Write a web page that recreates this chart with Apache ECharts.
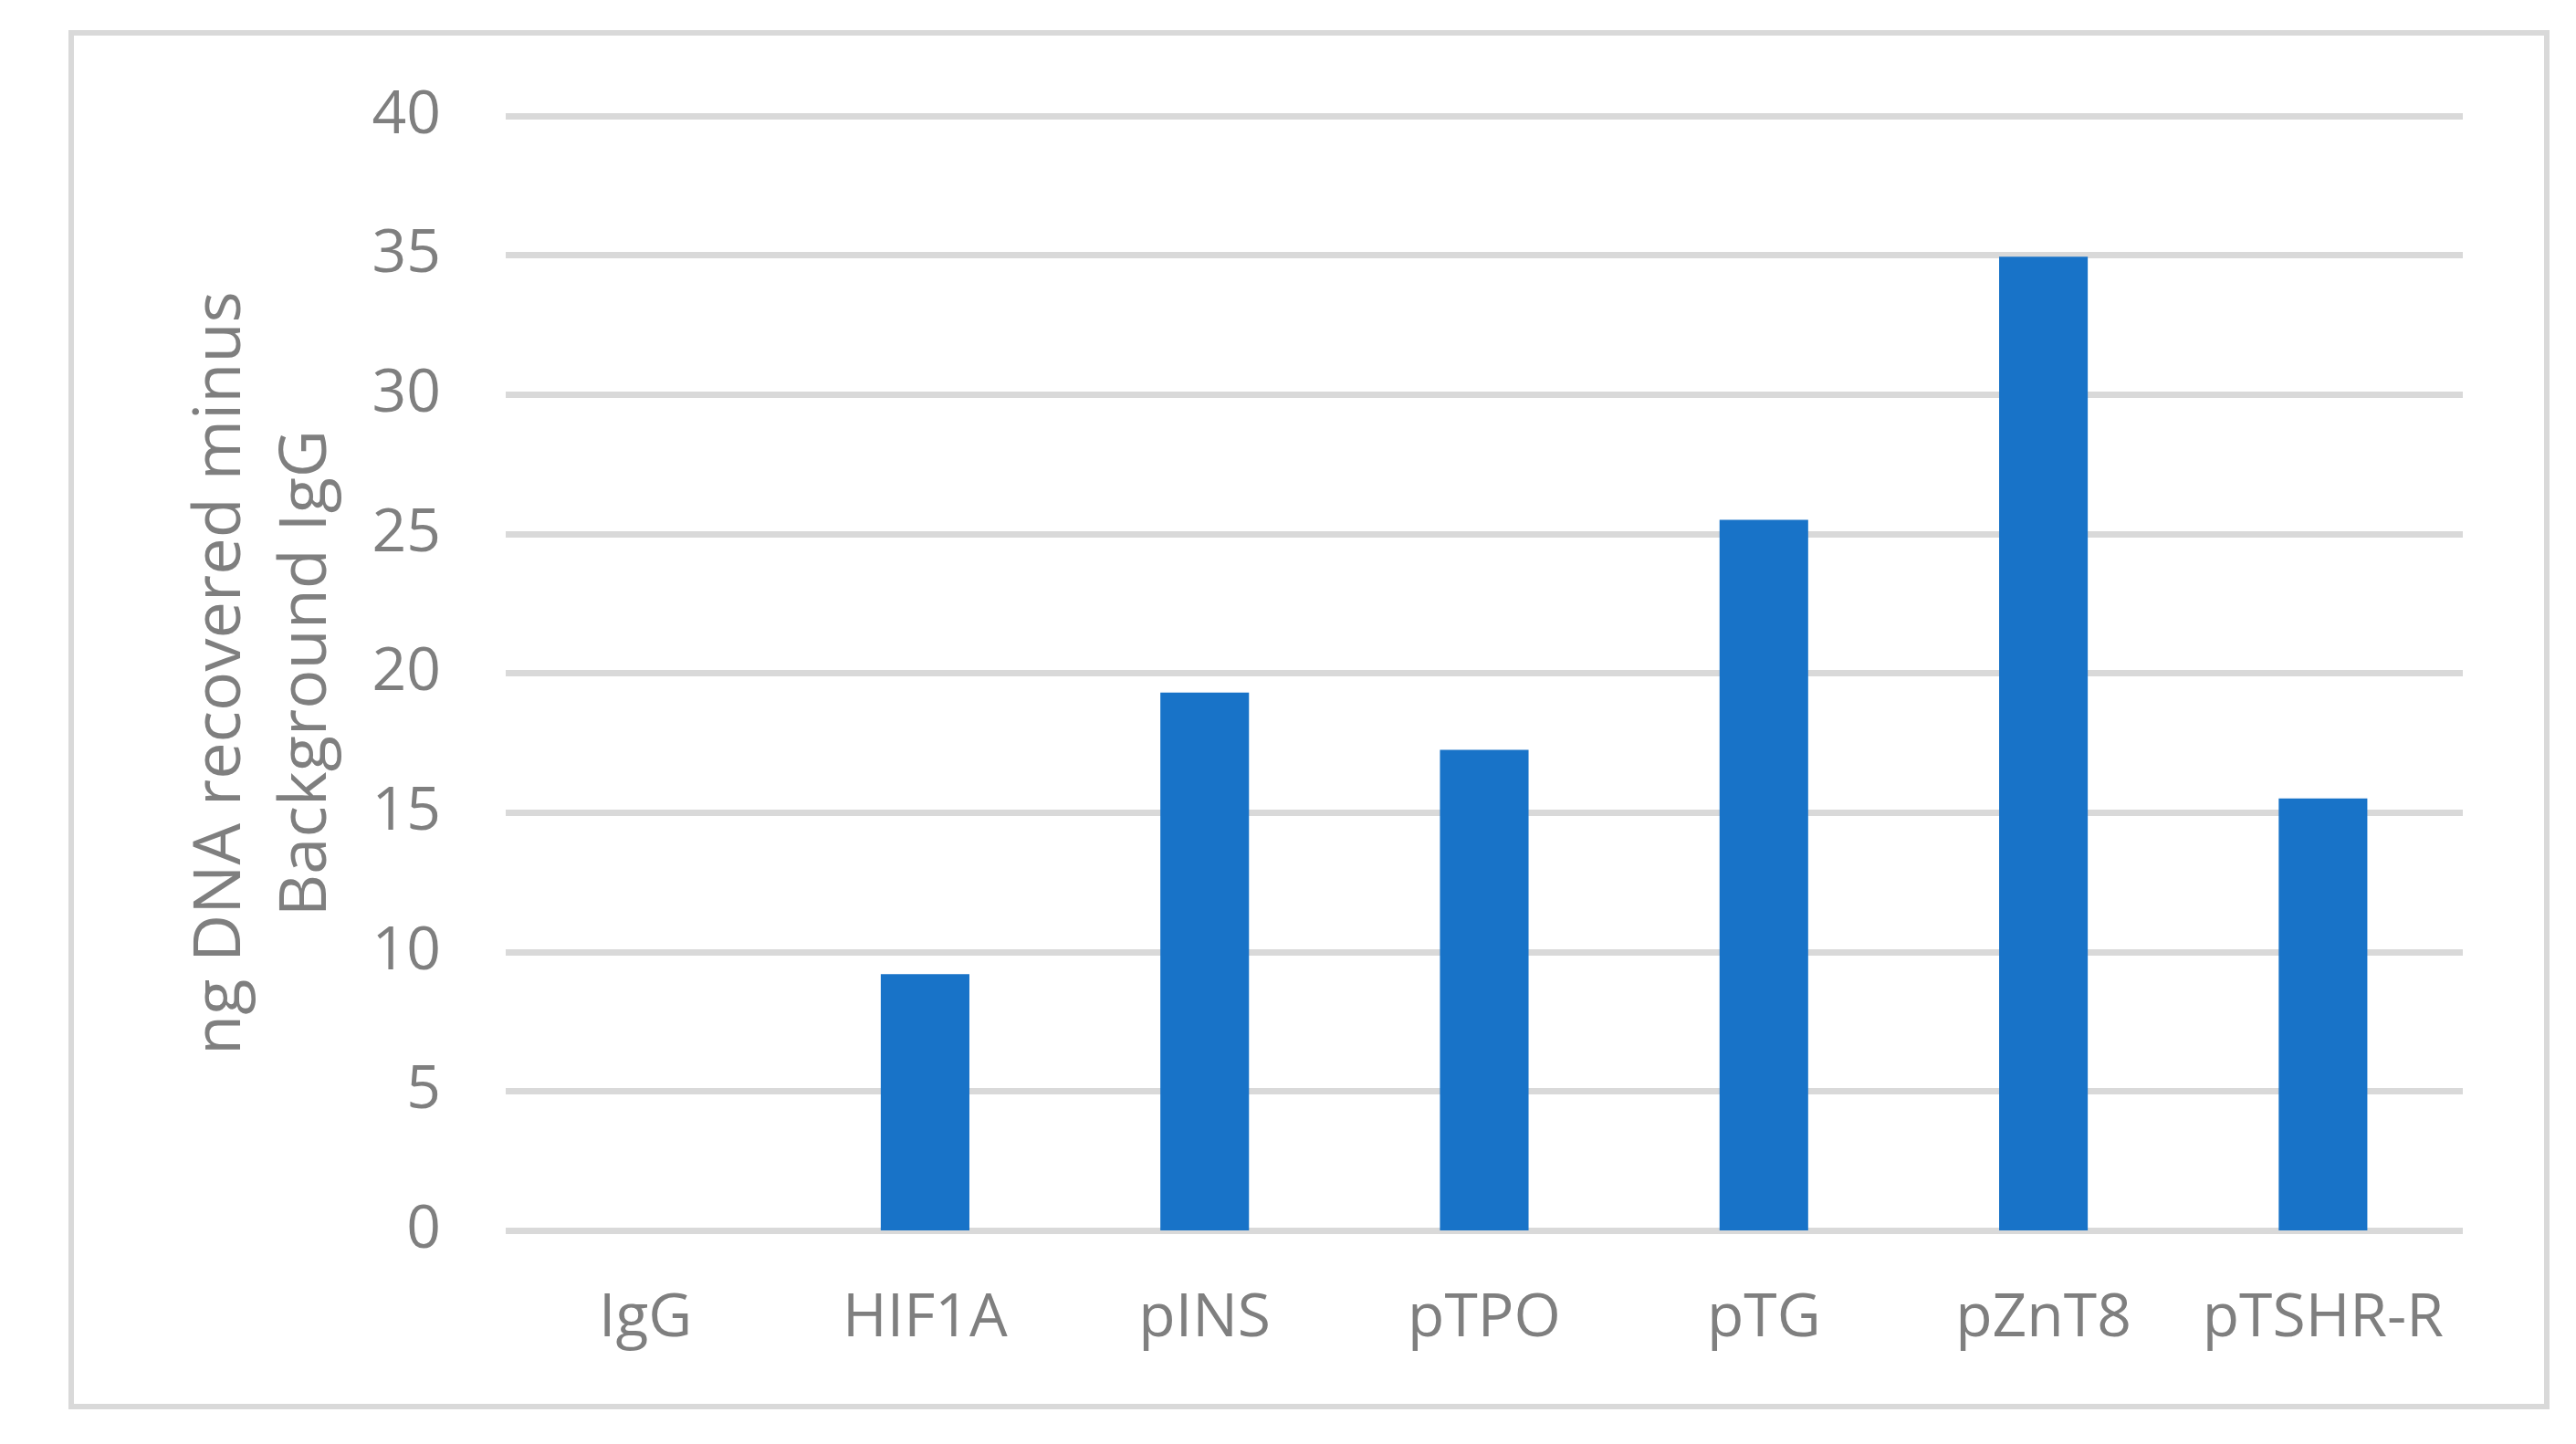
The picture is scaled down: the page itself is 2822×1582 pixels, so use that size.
<!DOCTYPE html>
<html>
<head>
<meta charset="utf-8">
<script src="https://cdn.jsdelivr.net/npm/echarts@6/dist/echarts.min.js"></script>
<style>
  html, body { margin: 0; padding: 0; background: #ffffff; }
  #chart { width: 2822px; height: 1582px; }
</style>
</head>
<body>
<div id="chart"></div>
<script>
const categories = ['IgG', 'HIF1A', 'pINS', 'pTPO', 'pTG', 'pZnT8', 'pTSHR-R'];
const values = [0, 9.2, 19.3, 17.25, 25.5, 34.95, 15.5];
const yAxisTitle = 'ng DNA recovered minus\nBackground IgG';
const yMin = 0, yMax = 40, yInterval = 5;

const textColor = '#7f7f7f';
const gridColor = '#d9d9d9';
const barColor = '#1873c8';
const fontFamily = '"Open Sans", "Noto Sans", sans-serif';

const chart = echarts.init(document.getElementById('chart'), null, { renderer: 'canvas' });
chart.setOption({
  backgroundColor: '#ffffff',
  animation: false,
  graphic: [{
    type: 'rect',
    shape: { x: 78, y: 36, width: 2712, height: 1505 },
    style: { fill: 'none', stroke: gridColor, lineWidth: 6 },
    z: -1
  }],
  grid: { left: 554, right: 124, top: 127, bottom: 234, containLabel: false },
  xAxis: {
    type: 'category',
    data: categories,
    axisLine: { show: false },
    axisTick: { show: false },
    axisLabel: {
      interval: 0,
      color: textColor, fontFamily: fontFamily, fontSize: 66, lineHeight: 66, margin: 64
    }
  },
  yAxis: {
    type: 'value',
    min: yMin, max: yMax, interval: yInterval,
    name: yAxisTitle,
    nameLocation: 'middle',
    nameRotate: 90,
    nameGap: 171,
    nameTextStyle: { color: textColor, fontFamily: fontFamily, fontSize: 72, lineHeight: 94 },
    axisLine: { show: false },
    axisTick: { show: false },
    axisLabel: { color: textColor, fontFamily: fontFamily, fontSize: 66, margin: 71 },
    splitLine: { show: true, lineStyle: { color: gridColor, width: 7 } }
  },
  series: [{
    type: 'bar',
    data: values,
    barWidth: '31.7%',
    itemStyle: { color: barColor }
  }]
});
</script>
</body>
</html>
